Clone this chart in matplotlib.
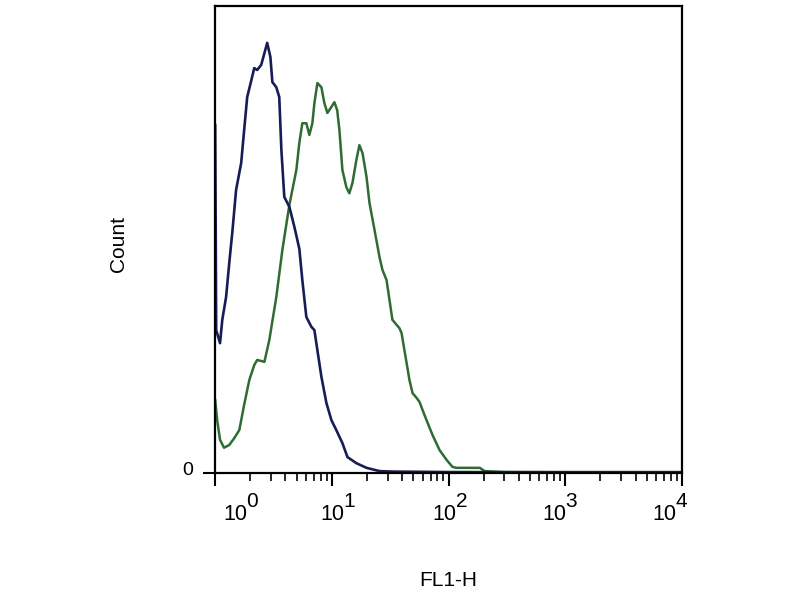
import matplotlib
matplotlib.use('Agg')
import matplotlib.pyplot as plt
import matplotlib.transforms as mtransforms
from matplotlib.ticker import LogLocator, NullFormatter, FixedLocator

plt.rcParams['font.family'] = ['Liberation Sans', 'DejaVu Sans']

# unstained / control histogram (dark blue)
control_fl1 = [1.00, 1.02, 1.10, 1.15, 1.24, 1.32, 1.40, 1.51, 1.67, 1.77, 1.88,
               2.04, 2.16, 2.29, 2.48, 2.64, 2.79, 2.97, 3.09, 3.34, 3.54, 3.69,
               3.91, 4.32, 4.77, 5.26, 5.58, 6.04, 6.67, 7.08, 7.51, 8.13, 8.97,
               9.91, 10.9, 12.3, 13.6, 16.2, 19.8, 25.6, 33.0, 100, 1000, 10000]
control_count = [74.5, 30.6, 27.8, 32.8, 37.7, 45.0, 51.4, 60.6, 66.4, 73.4, 80.5,
                 84.1, 86.7, 86.3, 87.4, 89.9, 92.1, 89.1, 83.7, 82.6, 80.5, 69.2,
                 59.1, 57.0, 52.7, 48.0, 41.3, 33.4, 31.3, 30.6, 26.3, 20.6, 15.0,
                 11.3, 9.2, 6.4, 3.4, 2.1, 1.1, 0.4, 0.3, 0.2, 0.15, 0.15]

# stained sample histogram (green)
sample_fl1 = [1.00, 1.04, 1.10, 1.19, 1.32, 1.46, 1.61, 1.77, 1.96, 2.16, 2.29,
              2.64, 2.91, 3.34, 3.76, 4.32, 4.96, 5.26, 5.58, 6.04, 6.41, 6.80,
              7.08, 7.51, 8.13, 8.62, 9.15, 9.91, 10.5, 11.1, 11.6, 12.3, 13.3,
              14.1, 15.0, 16.2, 17.2, 18.3, 19.8, 21.0, 23.2, 25.6, 27.1, 29.4,
              33.0, 37.9, 39.5, 46.2, 49.1, 53.1, 56.4, 59.8, 64.7, 72.9, 83.7,
              96.1, 108, 117, 185, 204, 300, 10000]
sample_count = [15.6, 11.3, 7.1, 5.4, 6.0, 7.5, 9.2, 14.6, 19.9, 23.1, 24.2,
                23.8, 28.5, 37.7, 47.7, 57.4, 64.9, 70.7, 74.9, 74.9, 72.4, 74.9,
                79.2, 83.5, 82.6, 79.2, 77.1, 78.4, 79.4, 77.7, 73.4, 64.9, 61.2,
                59.9, 62.1, 67.0, 70.2, 68.5, 63.4, 57.8, 52.0, 46.2, 43.5, 41.3,
                32.8, 31.0, 30.0, 19.9, 17.1, 16.1, 15.2, 13.5, 11.3, 8.1, 4.9,
                2.8, 1.3, 1.1, 1.1, 0.4, 0.2, 0.2]

decades = [1, 10, 100, 1000, 10000]
exponents = ['0', '1', '2', '3', '4']

fig = plt.figure(figsize=(8, 6), dpi=100)
ax = fig.add_axes([0.269, 0.2117, 0.5835, 0.7783])

ax.plot(sample_fl1, sample_count, color='#2f6b32', linewidth=1.8)
ax.plot(control_fl1, control_count, color='#171c56', linewidth=1.9)

ax.set_xscale('log')
ax.set_xlim(1, 10000)
ax.set_ylim(0, 100)

ax.xaxis.set_major_locator(FixedLocator(decades))
ax.xaxis.set_major_formatter(NullFormatter())
ax.xaxis.set_minor_locator(LogLocator(base=10, subs=range(2, 10)))
ax.xaxis.set_minor_formatter(NullFormatter())
ax.set_yticks([0])
ax.set_yticklabels(['0'])

ax.tick_params(axis='x', which='major', direction='out', length=9.5, width=1.5)
ax.tick_params(axis='x', which='minor', direction='out', length=5.5, width=1.2)
ax.tick_params(axis='y', which='major', direction='out', length=9, width=1.5,
               labelsize=14, pad=7)
for lbl in ax.get_yticklabels():
    lbl.set_transform(lbl.get_transform() +
                      mtransforms.ScaledTranslation(0, 4 / 100, fig.dpi_scale_trans))

# decade labels drawn as "10" with a near full-size raised exponent, as in the original
trans = mtransforms.blended_transform_factory(ax.transData, ax.transAxes)
shifts = [20, 0, -4, -11, -18]   # px, labels drift off their ticks
for d, e, dx in zip(decades, exponents, shifts):
    ax.annotate('10', (d, 0), xycoords=trans, xytext=(dx * 0.72, -42 * 0.72),
                textcoords='offset points', ha='center', va='center',
                fontsize=15.5, annotation_clip=False)
    ax.annotate(e, (d, 0), xycoords=trans, xytext=((dx + 17) * 0.72, -29 * 0.72),
                textcoords='offset points', ha='center', va='center',
                fontsize=15, annotation_clip=False)

for s in ax.spines.values():
    s.set_linewidth(1.6)
    s.set_color('black')

ax.set_xlabel('FL1-H', fontsize=15)
ax.set_ylabel('Count', fontsize=15)
ax.xaxis.set_label_coords(0.499, -0.21)
ax.yaxis.set_label_coords(-0.186, 0.49)

fig.savefig('out.png', dpi=100)
